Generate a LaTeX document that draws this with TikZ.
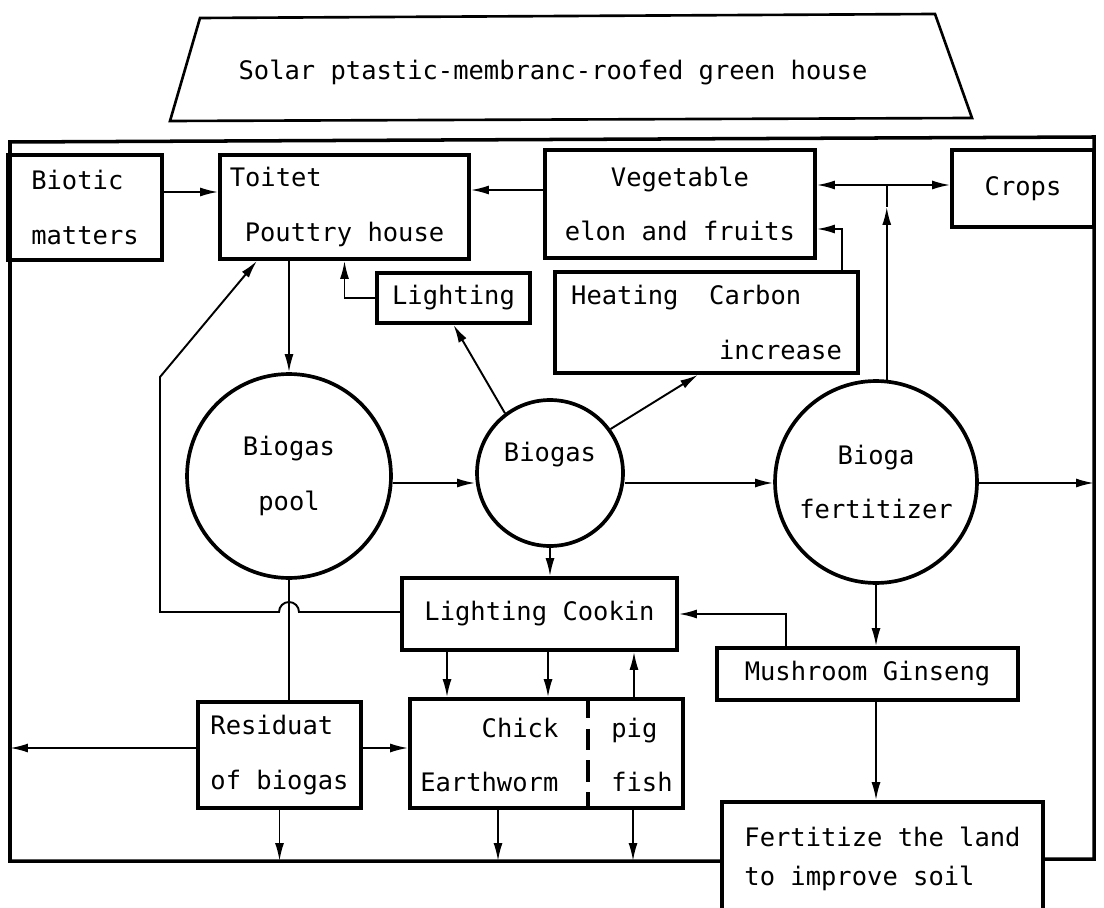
\documentclass[tikz,border=0pt]{standalone}
\usepackage{fontspec}
\setmainfont{DejaVu Sans Mono}
\usetikzlibrary{arrows.meta}

\begin{document}
\begin{tikzpicture}[x=0.02cm,y=-0.02cm,
    every node/.style={font={\fontsize{14.5pt}{31pt}\selectfont}},
    box/.style={draw,rectangle,line width=2.1pt,inner sep=0pt},
    bubble/.style={draw,circle,line width=2.1pt,inner sep=0pt},
    ln/.style={line width=1.1pt},
    tip/.tip={Latex[length=3.6mm,width=1.8mm]},
    arr/.style={ln,-tip}]
    \useasboundingbox (0,0) rectangle (1104,908);

    % roof
    \draw[line width=1.5pt] (200,18) -- (935,14) -- (972,118) -- (170,121) -- cycle;
    \node (roof) at (553,72) {Solar ptastic-membranc-roofed green house};

    % frame corners
    \coordinate (ftl) at (10,142);
    \coordinate (ftr) at (1094,137);
    \coordinate (fbr) at (1094,859);
    \coordinate (fbl) at (10,861);

    % boxes and pools
    \node[box,minimum width=3.08cm,minimum height=2.1cm,align=left] (biotic) at (85,207.5) {Biotic\\matters};
    \node[box,minimum width=4.98cm,minimum height=2.08cm,align=left] (toitet) at (344.5,207) {\hspace*{-0.3cm}Toitet\\Pouttry house};
    \node[box,minimum width=5.4cm,minimum height=2.16cm,align=center] (veg) at (680,204) {Vegetable\\elon and fruits};
    \node[box,minimum width=2.84cm,minimum height=1.54cm] (crops) at (1023,188.5) {Crops};
    \node[box,minimum width=3.06cm,minimum height=1cm] (lamp) at (453.5,298) {Lighting};
    \node[box,minimum width=6.06cm,minimum height=2.02cm,align=left] (heat) at (706.5,322.5) {Heating\ \ Carbon\\\hspace*{2.96cm}increase};
    \node[bubble,minimum size=4.08cm,align=center] (pool) at (289,476) {Biogas\\pool};
    \node[bubble,minimum size=2.92cm,label={[yshift=0.36cm]center:Biogas}] (gas) at (550,473) {};
    \node[bubble,minimum size=4.04cm,align=center] (fert) at (876,482) {Bioga\\fertitizer};
    \node[box,minimum width=5.5cm,minimum height=1.44cm] (cook) at (539.5,614) {Lighting Cookin};
    \node[box,minimum width=6.02cm,minimum height=1.04cm] (mush) at (867.5,674) {Mushroom Ginseng};
    \node[box,minimum width=3.26cm,minimum height=2.12cm,align=left] (resid) at (279.5,755) {Residuat\\of biogas};
    \node[box,minimum width=5.46cm,minimum height=2.14cm] (chick) at (546.5,753.5) {\begin{tabular}{@{}r@{\hspace{1.06cm}}l@{}}Chick&pig\\Earthworm&fish\end{tabular}};
    \node[box,minimum width=6.42cm,minimum height=2.26cm,align=left] (land) at (882.5,858.5) {Fertitize the land\\[-0.31cm]to improve soil};
    \draw[line width=2pt,dash pattern=on 12pt off 6pt] (588,0 |- chick.north) -- (588,0 |- chick.south);

    % frame
    \draw[line width=2pt] (land.west |- fbl) -- (fbl) -- (ftl) -- (ftr) -- (fbr) -- (land.east |- fbr);

    % top row
    \draw[arr] (biotic.east |- 0,192) -- (toitet.west |- 0,192);
    \draw[arr] (veg.west |- 0,190) -- (toitet.east |- 0,190);
    \draw[ln,tip-tip] (veg.east |- 0,185) -- (crops.west |- 0,185);
    \coordinate (jn) at (fert.84 |- 0,185);
    \draw[arr] (fert.84) -- (fert.84 |- 0,207);
    \draw[ln] (fert.84 |- 0,207) -- (jn);
    \coordinate (hv) at (842,229);
    \draw[arr] (heat.north -| hv) -- (hv) -- (hv -| veg.east);
    \draw[arr] (lamp.west) -| (toitet.south);
    \draw[arr] (toitet.south -| pool.north) -- (pool.north);
    \draw[arr] (gas.127) -- (lamp.south);
    \draw[arr] (gas.36) -- (698,0 |- heat.south);

    % middle row
    \draw[arr] (pool.east |- 0,483) -- (gas.west |- 0,483);
    \draw[arr] (gas.east |- 0,483) -- (fert.west |- 0,483);
    \draw[arr] (fert.east |- 0,483) -- (fbr |- 0,483);
    \draw[arr] (gas.south) -- (gas.south |- cook.north);

    % back to the toilet, hopping over the pool outlet
    \coordinate (hop) at (299,612);
    \coordinate (lb) at (160,612);
    \coordinate (lt) at (160,377);
    \draw[arr] (cook.west |- hop) -- (hop) arc[start angle=0,end angle=180,radius=0.2cm] -- (lb) -- (lt) -- (257,0 |- toitet.south);
    \draw[ln] (pool.south) -- (pool.south |- resid.north);

    % bottom row
    \draw[arr] (resid.west |- 0,748) -- (fbl |- 0,748);
    \draw[arr] (resid.east |- 0,748) -- (chick.west |- 0,748);
    \draw[arr] (resid.south) -- (resid.south |- fbl);
    \draw[arr] (447,0 |- cook.south) -- (447,0 |- chick.north);
    \draw[arr] (548,0 |- cook.south) -- (548,0 |- chick.north);
    \draw[arr] (634,0 |- chick.north) -- (634,0 |- cook.south);
    \draw[arr] (498,0 |- chick.south) -- (498,0 |- fbl);
    \draw[arr] (633,0 |- chick.south) -- (633,0 |- fbl);
    \draw[arr] (786,0 |- mush.north) |- (cook.east);
    \draw[arr] (fert.south) -- (fert.south |- mush.north);
    \draw[arr] (fert.south |- mush.south) -- (fert.south |- land.north);
\end{tikzpicture}
\end{document}
